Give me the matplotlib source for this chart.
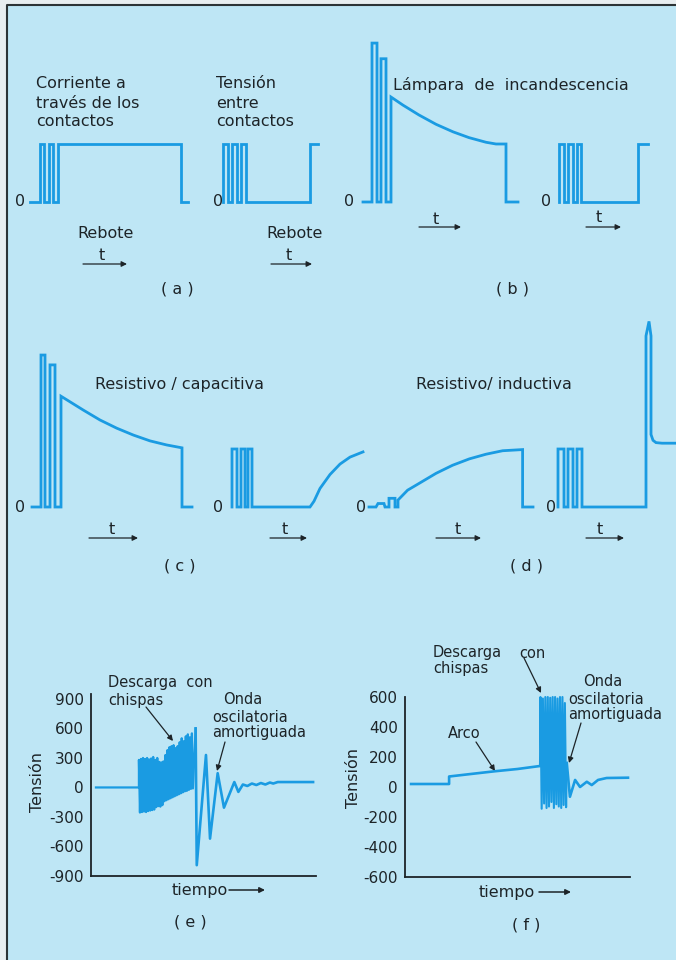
import matplotlib.pyplot as plt
from matplotlib.patches import Rectangle
import numpy as np

W, H = 676, 960
PAGE = '#e8eef0'
BLUE = '#bee6f5'
INK = '#1d2428'
WAVE = '#1a9be2'

plt.rcParams['font.family'] = ['DejaVu Sans']

# --- schematic waveforms (a)-(d): time in a.u., level relative to the "on" level
cur_a_t = [0, 5, 5, 7, 7, 9.5, 9.5, 11.5, 11.5, 14, 14, 75.5, 75.5, 79]
cur_a_v = [0, 0, 1, 1, 0, 0, 1, 1, 0, 0, 1, 1, 0, 0]

ten_a_t = [0, 0, 2.5, 2.5, 4.5, 4.5, 7, 7, 9, 9, 11.5, 11.5, 43.5, 43.5, 47.5]
ten_a_v = [0, 1, 1, 0, 0, 1, 1, 0, 0, 1, 1, 0, 0, 1, 1]

lamp_t = [0, 4.5, 4.5, 7, 7, 9, 9, 11.5, 11.5, 14, 14, 20, 28, 36.5, 45, 53, 61.5, 66.5, 71.5, 71.5, 77.5]
lamp_v = [0, 0, 2.74, 2.74, 0, 0, 2.47, 2.47, 0, 0, 1.81, 1.67, 1.50, 1.34, 1.21, 1.11, 1.03, 1.0, 1.0, 0, 0]

ten_b_t = [0, 0, 2.5, 2.5, 4.5, 4.5, 7, 7, 9, 9, 11, 11, 39.5, 39.5, 44.5]
ten_b_v = [0, 1, 1, 0, 0, 1, 1, 0, 0, 1, 1, 0, 0, 1, 1]

rc_t = [0, 4.5, 4.5, 6.5, 6.5, 9, 9, 11.5, 11.5, 14.5, 14.5, 25.7, 34, 42.3, 50.7, 59, 67.3, 75, 75, 80]
rc_v = [0, 0, 2.62, 2.62, 0, 0, 2.45, 2.45, 0, 0, 1.91, 1.67, 1.50, 1.36, 1.24, 1.14, 1.07, 1.02, 0, 0]

ten_c_t = [0, 0, 2.5, 2.5, 4.5, 4.5, 6.5, 6.5, 8, 8, 10, 10, 39, 41, 44, 49, 54, 59, 65.5]
ten_c_v = [0, 1, 1, 0, 0, 1, 1, 0, 0, 1, 1, 0, 0, 0.1, 0.32, 0.56, 0.74, 0.86, 0.95]

rl_t = [0, 3.5, 4.5, 7.5, 8, 10, 10, 13, 13, 14.5, 14.5, 19.3, 25.2, 33.5, 41.8, 50.2, 58.5, 66.8, 76.8, 76.8, 82]
rl_v = [0, 0, 0.06, 0.06, 0, 0, 0.15, 0.15, 0, 0, 0.12, 0.29, 0.41, 0.58, 0.72, 0.83, 0.91, 0.97, 0.99, 0, 0]

ten_d_t = [0, 0, 3, 3, 5, 5, 7.5, 7.5, 9.5, 9.5, 12, 12, 44, 44, 45.5, 46.5, 46.5, 47.5, 49, 52, 60]
ten_d_v = [0, 1, 1, 0, 0, 1, 1, 0, 0, 1, 1, 0, 0, 2.95, 3.2, 2.95, 1.25, 1.15, 1.11, 1.10, 1.10]

# --- (e) voltage trace
e_ticks = [900, 600, 300, 0, -300, -600, -900]
e_tick_labels = ['900', '600', '300', '0', '-300', '-600', '-900']
e_flat_t = [2.2, 21.3]
e_flat_v = [0, 0]
e_spark_span = (21.3, 45.3)
e_spark_hi = [280, 290, 300, 290, 300, 285, 295, 310, 280, 300, 260, 255, 265, 330,
              380, 410, 420, 430, 400, 420, 460, 500, 470, 520, 540, 510, 550]
e_spark_lo = [-255, -250, -245, -250, -240, -235, -230, -225, -200, -190, -195, -180, -140, -130,
              -120, -110, -100, -90, -80, -70, -60, -50, -40, -35, -25, -15, -10]
e_tail_t = [46.5, 47.0, 51.1, 52.9, 56.3, 59.1, 63.7, 65.5, 67.5, 69.5, 71.5, 73.5, 75.5, 77.5, 79.5, 81.0, 83.0, 98.7]
e_tail_v = [600, -790, 330, -520, 145, -205, 55, -45, 30, 15, 40, 25, 45, 30, 50, 40, 55, 55]

# --- (f) voltage trace
f_ticks = [600, 400, 200, 0, -200, -400, -600]
f_tick_labels = ['600', '400', '200', '0', '-200', '-400', '-600']
f_arc_t = [2.7, 19.6, 19.6, 30, 40, 50, 60]
f_arc_v = [20, 20, 70, 88, 105, 120, 140]
f_spark_span = (60.2, 71.6)
f_spark_hi = [600, 590, 600, 600, 595, 600, 600, 590, 600, 600, 560]
f_spark_lo = [-145, -110, -140, -130, -100, -140, -115, -130, -140, -120, -135]
f_tail_t = [71.9, 73.3, 75.6, 77.8, 80.8, 83.0, 85.8, 89.6, 99.1]
f_tail_v = [160, -65, 47, 0, 35, 13, 47, 60, 62]

SX, SY = 2.0, 58.0   # px per time unit, px per level unit
FS = 11.5
FS_SMALL = 10.5

fig = plt.figure(figsize=(W / 100, H / 100), dpi=100, facecolor=PAGE)
bg = fig.add_axes([0, 0, 1, 1])
bg.set_xlim(0, W)
bg.set_ylim(H, 0)
bg.axis('off')
bg.add_patch(Rectangle((7, 5), W + 10, H + 10, facecolor=BLUE, edgecolor='none'))
bg.plot([7, 7, W + 5], [H + 5, 5, 5], color='#2c3436', lw=1.5)


def wave(x0, y0, t, v, lw=2.0):
    """ draw one schematic trace, t=0 at pixel x0, level 0 at pixel y0 """
    t = np.asarray(t, float)
    v = np.asarray(v, float)
    t1 = t.max() + 2
    v0, v1 = -0.3, v.max() + 0.3
    ax = fig.add_axes([x0 / W, (H - (y0 - v0 * SY)) / H, t1 * SX / W, (v1 - v0) * SY / H])
    ax.set_xlim(0, t1)
    ax.set_ylim(v0, v1)
    ax.axis('off')
    ax.plot(t, v, color=WAVE, lw=lw, solid_joinstyle='miter', clip_on=False)
    return ax


def spark(span, hi, lo):
    ts = np.linspace(span[0], span[1], 2 * len(hi))
    vs = np.empty(2 * len(hi))
    vs[0::2] = hi
    vs[1::2] = lo
    return ts, vs


def label(x, y, s, ha='left', size=FS, **kw):
    bg.text(x, y, s, ha=ha, va='center', fontsize=size, color=INK, **kw)


def arrow(x0, y0, x1, y1, lw=0.9):
    bg.annotate('', xy=(x1, y1), xytext=(x0, y0),
                arrowprops=dict(arrowstyle='-|>', color=INK, lw=lw, mutation_scale=8,
                                shrinkA=0, shrinkB=0))


def t_axis(xt, yt, x0, x1, y):
    label(xt, yt, 't', ha='center')
    arrow(x0, y, x1, y)


# (a)
wave(30, 202, cur_a_t, cur_a_v)
wave(223, 202, ten_a_t, ten_a_v)
for i, s in enumerate(['Corriente a', 'través de los', 'contactos']):
    label(36, 84 + 19 * i, s)
for i, s in enumerate(['Tensión', 'entre', 'contactos']):
    label(216, 84 + 19 * i, s)
label(20, 202, '0', ha='center')
label(218, 202, '0', ha='center')
label(106, 234, 'Rebote', ha='center')
label(295, 234, 'Rebote', ha='center')
t_axis(102, 255, 83, 127, 264)
t_axis(289, 255, 271, 312, 264)
label(177, 289, '( a )', ha='center')

# (b)
wave(363, 202, lamp_t, lamp_v)
wave(559, 202, ten_b_t, ten_b_v)
label(393, 85, 'Lámpara  de  incandescencia')
label(349, 202, '0', ha='center')
label(546, 202, '0', ha='center')
t_axis(436, 219, 419, 461, 227)
t_axis(599, 218, 586, 621, 227)
label(512, 289, '( b )', ha='center')

# (c)
wave(32, 507, rc_t, rc_v)
wave(232, 507, ten_c_t, ten_c_v)
label(95, 384, 'Resistivo / capacitiva')
label(20, 507, '0', ha='center')
label(218, 507, '0', ha='center')
t_axis(112, 530, 89, 138, 538)
t_axis(285, 530, 270, 307, 538)
label(180, 566, '( c )', ha='center')

# (d)
wave(369, 507, rl_t, rl_v)
wave(558, 507, ten_d_t, ten_d_v)
label(416, 385, 'Resistivo/ inductiva')
label(361, 507, '0', ha='center')
label(551, 507, '0', ha='center')
t_axis(458, 530, 436, 481, 538)
t_axis(600, 530, 586, 624, 538)
label(527, 566, '( d )', ha='center')


def scope_axes(box, ylim, ticks, tick_labels, top_tick):
    x0, y_top, x1, y_bot = box
    ax = fig.add_axes([x0 / W, (H - y_bot) / H, (x1 - x0) / W, (y_bot - y_top) / H])
    ax.set_xlim(0, 100)
    ax.set_ylim(*ylim)
    ax.patch.set_visible(False)
    for side in ('top', 'right'):
        ax.spines[side].set_visible(False)
    for side in ('left', 'bottom'):
        ax.spines[side].set_color(INK)
        ax.spines[side].set_linewidth(1.3)
    ax.set_xticks([])
    ax.set_yticks(ticks)
    ax.set_yticklabels(tick_labels)
    ax.tick_params(axis='y', length=0, pad=5, labelsize=11, labelcolor=INK)
    ax.set_yticks([top_tick], minor=True)
    ax.tick_params(axis='y', which='minor', length=4, width=1.2, direction='in', color=INK)
    return ax


# (e)
ax_e = scope_axes((91, 694, 316, 876), (-900, 950), e_ticks, e_tick_labels, 900)
st, sv = spark(e_spark_span, e_spark_hi, e_spark_lo)
ax_e.plot(np.concatenate([e_flat_t, st, e_tail_t[:1]]),
          np.concatenate([e_flat_v, sv, e_tail_v[:1]]), color=WAVE, lw=1.6, clip_on=False)
ax_e.plot(e_tail_t, e_tail_v, color=WAVE, lw=1.9, clip_on=False)
label(37, 782, 'Tensión', ha='center', rotation=90)
label(108, 683, 'Descarga  con', size=FS_SMALL)
label(108, 700, 'chispas', size=FS_SMALL)
arrow(146, 707, 173, 741)
label(223, 700, 'Onda', size=FS_SMALL)
label(212, 717, 'oscilatoria', size=FS_SMALL)
label(212, 733, 'amortiguada', size=FS_SMALL)
arrow(225, 742, 217, 771)
label(172, 890, 'tiempo')
arrow(229, 890, 265, 890, lw=1.1)
label(190, 922, '( e )', ha='center')

# (f)
ax_f = scope_axes((405, 697, 630, 877), (-600, 600), f_ticks, f_tick_labels, 600)
st, sv = spark(f_spark_span, f_spark_hi, f_spark_lo)
ax_f.plot(f_arc_t, f_arc_v, color=WAVE, lw=1.9, clip_on=False)
ax_f.plot(np.concatenate([f_arc_t[-1:], st, f_tail_t[:1]]),
          np.concatenate([f_arc_v[-1:], sv, f_tail_v[:1]]), color=WAVE, lw=1.5, clip_on=False)
ax_f.plot(f_tail_t, f_tail_v, color=WAVE, lw=1.9, clip_on=False)
label(354, 778, 'Tensión', ha='center', rotation=90)
label(433, 653, 'Descarga', size=FS_SMALL)
label(519, 653, 'con', size=FS_SMALL)
label(433, 669, 'chispas', size=FS_SMALL)
arrow(524, 658, 541, 693)
label(583, 682, 'Onda', size=FS_SMALL)
label(568, 700, 'oscilatoria', size=FS_SMALL)
label(568, 715, 'amortiguada', size=FS_SMALL)
arrow(581, 723, 569, 763)
label(448, 733, 'Arco', size=FS_SMALL)
arrow(476, 742, 495, 771)
label(479, 892, 'tiempo')
arrow(539, 892, 571, 892, lw=1.1)
label(526, 925, '( f )', ha='center')

fig.savefig('out.png', dpi=100, facecolor=PAGE)
